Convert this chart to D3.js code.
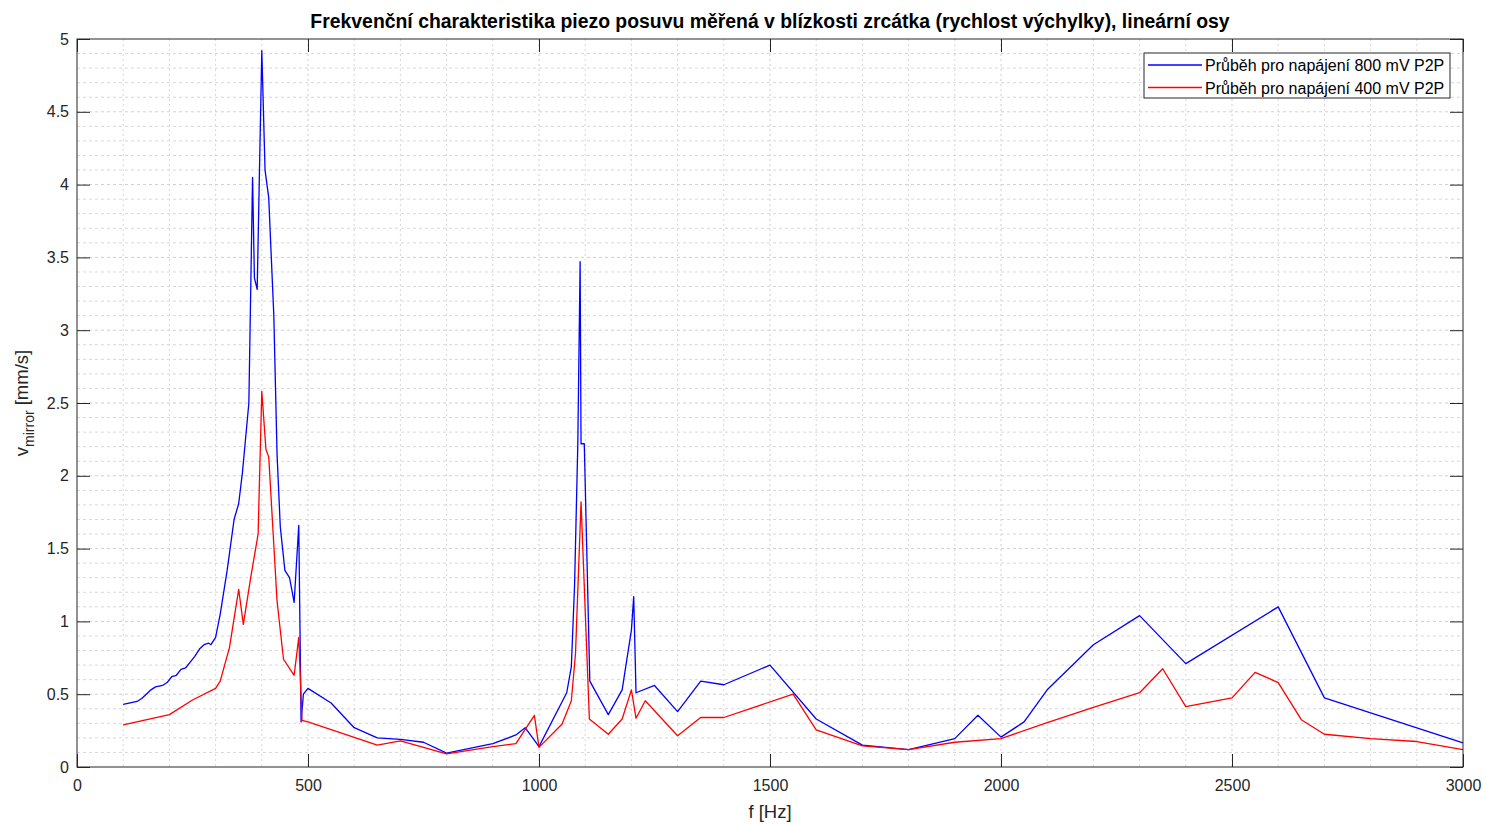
<!DOCTYPE html>
<html>
<head>
<meta charset="utf-8">
<script src="https://cdn.jsdelivr.net/npm/d3@7"></script>
<style>
  html, body { margin: 0; padding: 0; background: #fff; }
  svg { display: block; font-family: "Liberation Sans", Arial, Helvetica, sans-serif; }
</style>
</head>
<body>
<svg id="chart" width="1486" height="824"></svg>
<script>
// Measured response at 800 mV P2P drive: frequency [Hz] and mirror velocity [mm/s]
const freq800 = [100, 115, 130, 140, 150, 160, 170, 185, 195, 205, 215, 225, 235, 245, 255, 265, 275, 285, 290, 300,
  310, 325, 340, 350, 358, 365, 372, 380, 384, 390, 400, 407, 415, 426, 433, 440, 450, 460, 470, 480,
  485, 490, 500, 550, 600, 650, 700, 750, 800, 900, 950, 970, 1000, 1060, 1070, 1077, 1084, 1089, 1091, 1098,
  1110, 1150, 1180, 1200, 1205, 1210, 1250, 1300, 1350, 1400, 1500, 1600, 1700, 1800, 1900, 1950, 2000, 2050, 2100, 2200,
  2300, 2400, 2600, 2700, 3000];
const v800 = [0.43, 0.44, 0.45, 0.47, 0.50, 0.53, 0.55, 0.56, 0.58, 0.62, 0.63, 0.67, 0.68, 0.72, 0.76, 0.81, 0.84, 0.85, 0.84, 0.89,
  1.05, 1.35, 1.70, 1.81, 2.02, 2.26, 2.50, 4.05, 3.36, 3.28, 4.92, 4.10, 3.91, 3.10, 2.15, 1.65, 1.35, 1.30, 1.13, 1.66,
  0.31, 0.50, 0.54, 0.44, 0.27, 0.20, 0.19, 0.17, 0.095, 0.16, 0.22, 0.27, 0.14, 0.51, 0.69, 1.25, 2.22, 3.47, 2.22, 2.22,
  0.59, 0.36, 0.53, 0.94, 1.17, 0.51, 0.56, 0.38, 0.59, 0.565, 0.70, 0.33, 0.15, 0.12, 0.195, 0.355, 0.205, 0.31, 0.53, 0.84,
  1.04, 0.71, 1.10, 0.475, 0.165];

// Measured response at 400 mV P2P drive
const freq400 = [100, 200, 250, 300, 310, 330, 350, 360, 376, 392, 400, 409, 415, 433, 447, 470, 480, 487, 500, 650,
  700, 800, 900, 950, 990, 1000, 1050, 1070, 1079, 1091, 1109, 1150, 1180, 1200, 1210, 1230, 1300, 1350, 1400, 1550,
  1600, 1700, 1800, 1900, 2000, 2100, 2200, 2300, 2350, 2400, 2500, 2550, 2600, 2650, 2700, 2800, 2900, 3000];
const v400 = [0.29, 0.36, 0.46, 0.54, 0.59, 0.82, 1.22, 0.98, 1.30, 1.60, 2.58, 2.18, 2.13, 1.14, 0.74, 0.63, 0.89, 0.32, 0.31, 0.15,
  0.18, 0.09, 0.14, 0.16, 0.355, 0.135, 0.295, 0.455, 0.78, 1.82, 0.33, 0.225, 0.33, 0.53, 0.335, 0.455, 0.215, 0.34, 0.34, 0.50,
  0.255, 0.145, 0.12, 0.17, 0.195, 0.305, 0.41, 0.51, 0.675, 0.415, 0.475, 0.65, 0.58, 0.325, 0.225, 0.195, 0.175, 0.12];

const xTicks = [0, 500, 1000, 1500, 2000, 2500, 3000];
const yTicks = [0, 0.5, 1, 1.5, 2, 2.5, 3, 3.5, 4, 4.5, 5];
const seriesNames = ["Průběh pro napájení 800 mV P2P", "Průběh pro napájení 400 mV P2P"];
const seriesColors = ["#0000ff", "#ff0000"];

const titleText = "Frekvenční charakteristika piezo posuvu měřená v blízkosti zrcátka (rychlost výchylky), lineární osy";

const svg = d3.select("#chart");
const plotL = 77, plotR = 1463, plotT = 39, plotB = 767;
const axisColor = "#262626";

const x = d3.scaleLinear().domain([0, 3000]).range([plotL, plotR]);
const y = d3.scaleLinear().domain([0, 5]).range([plotB, plotT]);

// Minor grid
const minorX = d3.range(100, 3000, 100).filter(v => v % 500 !== 0);
const minorY = d3.range(1, 50).map(v => v / 10).filter(v => Math.round(v * 10) % 5 !== 0);
const grid = svg.append("g");
grid.selectAll(".mx").data(minorX).join("line")
  .attr("x1", d => x(d)).attr("x2", d => x(d)).attr("y1", plotT).attr("y2", plotB)
  .attr("stroke", "#d8d8d8").attr("stroke-width", 1).attr("stroke-dasharray", "2,3");
grid.selectAll(".my").data(minorY).join("line")
  .attr("x1", plotL).attr("x2", plotR).attr("y1", d => y(d)).attr("y2", d => y(d))
  .attr("stroke", "#d8d8d8").attr("stroke-width", 1).attr("stroke-dasharray", "3,3");
// Major grid
grid.selectAll(".gx").data(xTicks.slice(1, -1)).join("line")
  .attr("x1", d => x(d)).attr("x2", d => x(d)).attr("y1", plotT).attr("y2", plotB)
  .attr("stroke", "#cfcfcf").attr("stroke-width", 1).attr("stroke-dasharray", "2,3");
grid.selectAll(".gy").data(yTicks.slice(1, -1)).join("line")
  .attr("x1", plotL).attr("x2", plotR).attr("y1", d => y(d)).attr("y2", d => y(d))
  .attr("stroke", "#cfcfcf").attr("stroke-width", 1).attr("stroke-dasharray", "3,3");

// Data lines
const line = d3.line().x(d => x(d[0])).y(d => y(d[1]));
const series = [
  d3.zip(freq800, v800),
  d3.zip(freq400, v400)
];
svg.append("g").selectAll("path").data(series).join("path")
  .attr("d", line)
  .attr("fill", "none")
  .attr("stroke", (d, i) => seriesColors[i])
  .attr("stroke-width", 1.3)
  .attr("stroke-linejoin", "round");

// Axes (ticks pointing inward, box around plot)
const tickLen = 13;
const fmt = d => d3.format("~g")(d);
const xAxis = d3.axisBottom(x).tickValues(xTicks).tickSize(-tickLen).tickPadding(13).tickFormat(fmt);
const xAxisTop = d3.axisTop(x).tickValues(xTicks).tickSize(-tickLen).tickFormat("");
const yAxis = d3.axisLeft(y).tickValues(yTicks).tickSize(-tickLen).tickPadding(8).tickFormat(fmt);
const yAxisRight = d3.axisRight(y).tickValues(yTicks).tickSize(-tickLen).tickFormat("");

function styleAxis(g) {
  g.select(".domain").remove();
  g.selectAll(".tick line").attr("stroke", axisColor).attr("stroke-width", 1);
  g.selectAll(".tick text").attr("fill", axisColor).style("font-size", "16px")
    .style("font-family", "'Liberation Sans', Arial, sans-serif");
}
svg.append("g").attr("transform", `translate(0,${plotB})`).call(xAxis).call(styleAxis);
svg.append("g").attr("transform", `translate(0,${plotT})`).call(xAxisTop).call(styleAxis);
svg.append("g").attr("transform", `translate(${plotL},0)`).call(yAxis).call(styleAxis);
svg.append("g").attr("transform", `translate(${plotR},0)`).call(yAxisRight).call(styleAxis);

svg.append("rect")
  .attr("x", plotL).attr("y", plotT).attr("width", plotR - plotL).attr("height", plotB - plotT)
  .attr("fill", "none").attr("stroke", axisColor).attr("stroke-width", 1);

// Title
svg.append("text")
  .attr("x", (plotL + plotR) / 2).attr("y", 28)
  .attr("text-anchor", "middle")
  .attr("fill", "#000")
  .style("font-size", "19.4px").style("font-weight", "bold")
  .text(titleText);

// Axis labels
svg.append("text")
  .attr("x", (plotL + plotR) / 2).attr("y", 818)
  .attr("text-anchor", "middle").attr("fill", axisColor)
  .style("font-size", "18.5px")
  .text("f [Hz]");

const yl = svg.append("text")
  .attr("transform", `translate(28,${(plotT + plotB) / 2}) rotate(-90)`)
  .attr("text-anchor", "middle").attr("fill", axisColor)
  .style("font-size", "18.5px");
yl.append("tspan").text("v");
yl.append("tspan").attr("dy", 6).style("font-size", "14px").text("mirror");
yl.append("tspan").attr("dy", -6).text(" [mm/s]");

// Legend
const legend = svg.append("g");
legend.append("rect")
  .attr("x", 1144).attr("y", 53).attr("width", 306).attr("height", 45)
  .attr("fill", "#fff").attr("stroke", axisColor).attr("stroke-width", 1);
const rows = legend.selectAll("g.row").data(seriesNames).join("g")
  .attr("transform", (d, i) => `translate(0,${65 + i * 22.5})`);
rows.append("line")
  .attr("x1", 1148).attr("x2", 1202).attr("y1", 0).attr("y2", 0)
  .attr("stroke", (d, i) => seriesColors[i]).attr("stroke-width", 1.3);
rows.append("text")
  .attr("x", 1205).attr("y", 6)
  .attr("fill", "#000")
  .style("font-size", "16px")
  .text(d => d);
</script>
</body>
</html>
